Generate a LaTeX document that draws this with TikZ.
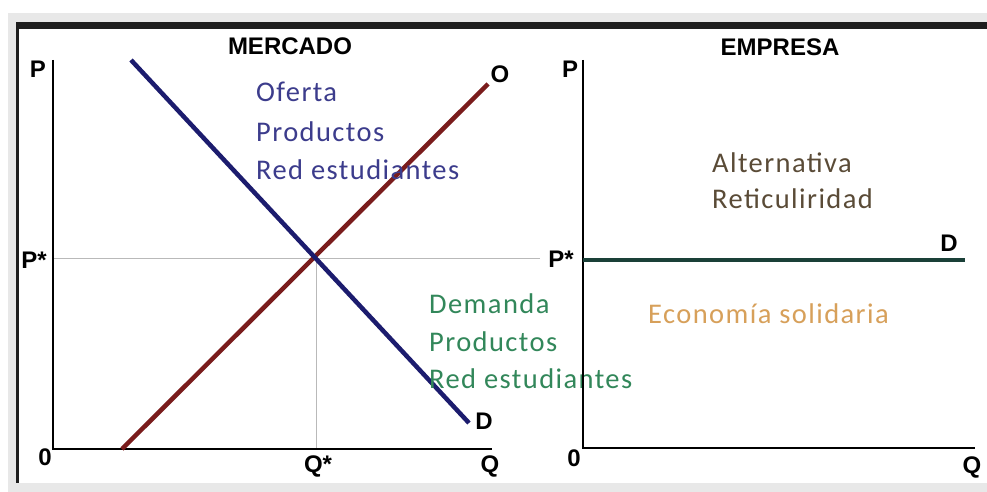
\documentclass[tikz,border=0pt]{standalone}
\usepackage{fontspec}
\setmainfont{Liberation Sans}
\newfontfamily\calfont[LetterSpace=5]{Carlito}
\definecolor{supplyc}{RGB}{122,28,28}
\definecolor{demandc}{RGB}{28,28,110}
\definecolor{tealc}{RGB}{26,64,56}
\definecolor{bluetext}{RGB}{60,60,140}
\definecolor{greentext}{RGB}{50,135,90}
\definecolor{browntext}{RGB}{90,75,55}
\definecolor{orangetext}{RGB}{215,160,90}
\definecolor{gridgrey}{RGB}{185,185,185}
\definecolor{framegrey}{RGB}{232,232,232}
\definecolor{framedark}{RGB}{30,30,30}
\begin{document}
\begin{tikzpicture}[x=1pt,y=-1pt,
  lab/.style={font=\fontsize{24}{24}\selectfont\bfseries, inner sep=0pt, text=black},
  ctext/.style={font=\fontsize{28.5}{28.5}\selectfont\calfont, inner sep=0pt, anchor=base west},
  axis/.style={draw=black, line width=2pt},
  guide/.style={draw=gridgrey, line width=0.9pt},
  curve/.style={line width=4.5pt}
]
\useasboundingbox (0,0) rectangle (987,492);
% frame
\fill[white] (0,0) rectangle (987,492);
\fill[framegrey] (8,13) rectangle (987,492);
\fill[white] (19,29) rectangle (987,483);
\fill[framedark] (16,22) rectangle (987,29);
\fill[framedark] (16,22) rectangle (19,483);

% ---------- left chart: MERCADO ----------
\coordinate (o1) at (53,449);
\coordinate (ytop1) at (53,60);
\coordinate (xend1) at (492,449);
\coordinate (pstar1) at (53,258);
\coordinate (pstarend) at (540,258);
\coordinate (eq) at (316,258);
\coordinate (qstar) at (316,449);
\coordinate (s0) at (122,449);
\coordinate (s1) at (488,84);
\coordinate (d0) at (131,60);
\coordinate (d1) at (469,423);

\draw[guide] (pstar1) -- (pstarend);
\draw[guide] (eq) -- (qstar);
\draw[axis] (ytop1) -- (o1) -- (xend1);
\draw[curve, supplyc] (s0) -- (s1);
\draw[curve, demandc] (d0) -- (d1);

\node[lab] (mercado) at (290,46) {MERCADO};
\node[lab] (p1) at (38,69) {P};
\node[lab] (ps1) at (34,260) {P*};
\node[lab] (z1) at (45,457) {0};
\node[lab] (qs1) at (318,466) {Q*};
\node[lab] (q1) at (490,466) {Q};
\node[lab] (dlab1) at (484,421) {D};
\node[lab] (olab) at (500,74) {O};

\node[ctext, text=bluetext] (of1) at (256,102) {Oferta};
\node[ctext, text=bluetext] (of2) at (256,141) {Productos};
\node[ctext, text=bluetext] (of3) at (256,179) {Red estudiantes};

\node[ctext, text=greentext] (de1) at (429,313) {Demanda};
\node[ctext, text=greentext] (de2) at (429,351) {Productos};
\node[ctext, text=greentext] (de3) at (429,388) {Red estudiantes};

% ---------- right chart: EMPRESA ----------
\coordinate (o2) at (583,448);
\coordinate (ytop2) at (583,60);
\coordinate (xend2) at (975,448);
\coordinate (h0) at (583,260);
\coordinate (h1) at (965,260);

\draw[axis] (ytop2) -- (o2) -- (xend2);
\draw[curve, tealc, line width=4pt] (h0) -- (h1);

\node[lab] (empresa) at (780,47) {EMPRESA};
\node[lab] (p2) at (570,69) {P};
\node[lab] (ps2) at (561,259) {P*};
\node[lab] (z2) at (574,458) {0};
\node[lab] (q2) at (972,467) {Q};
\node[lab] (dlab2) at (949,243) {D};

\node[ctext, text=browntext] (al1) at (712,172) {Alternativa};
\node[ctext, text=browntext] (al2) at (712,208) {Reticuliridad};
\node[ctext, text=orangetext] (ec) at (648,323) {Economía solidaria};
\end{tikzpicture}
\end{document}
